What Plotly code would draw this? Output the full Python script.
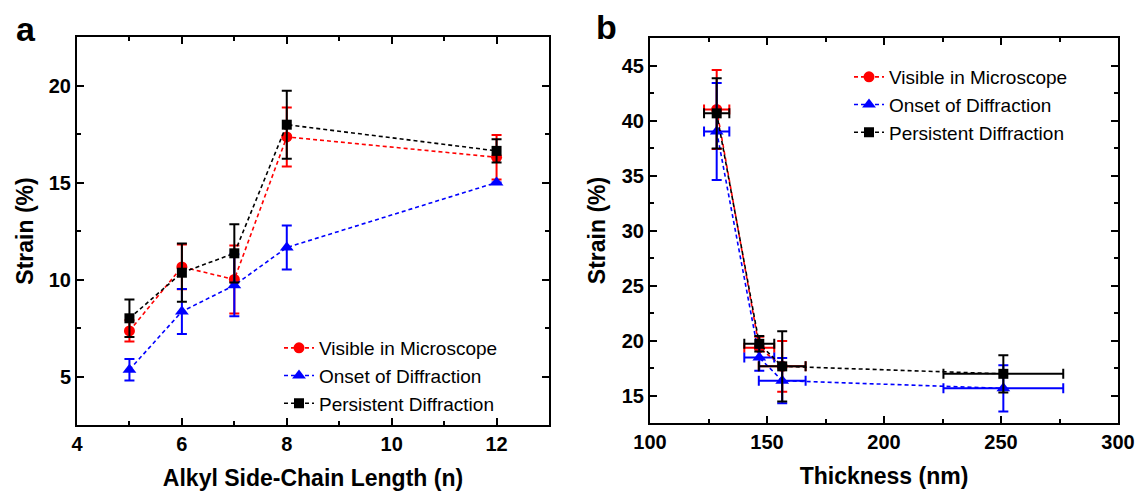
import plotly.graph_objects as go

# ---------- Panel a data ----------
chain_len = [5, 6, 7, 8, 12]
vis_a = [7.35, 10.65, 10.0, 17.35, 16.3]
vis_a_err = [0.55, 1.15, 1.75, 1.52, 1.15]
onset_a = [5.35, 8.35, 9.7, 11.65, 15.0]
onset_a_err = [0.55, 1.16, 1.6, 1.13, 0.0]
pers_a = [8.0, 10.35, 11.35, 17.98, 16.63]
pers_a_err = [0.97, 1.5, 1.5, 1.75, 0.6]

# ---------- Panel b data ----------
thick_vis = [128.5, 146.7, 156.5]
thick_vis_err = [5.4, 6.4, 10.0]
vis_b = [41.0, 19.35, 17.65]
vis_b_err = [3.6, 1.0, 2.3]

thick_onset = [128.5, 146.7, 156.5, 251.0]
thick_onset_err = [5.4, 6.4, 10.0, 25.6]
onset_b = [39.0, 18.45, 16.35, 15.65]
onset_b_err = [4.4, 1.2, 2.05, 2.1]

thick_pers = [128.5, 146.7, 156.5, 251.0]
thick_pers_err = [5.4, 6.4, 10.0, 25.6]
pers_b = [40.65, 19.7, 17.65, 16.97]
pers_b_err = [3.2, 0.7, 3.2, 1.7]

names = ["Visible in Microscope", "Onset of Diffraction", "Persistent Diffraction"]
colors = ["#ff0000", "#0000ff", "#000000"]
symbols = ["circle", "triangle-up", "square"]
msizes = [11, 12, 10]

W, H = 1138, 493
fig = go.Figure()

series_a = [(vis_a, vis_a_err), (onset_a, onset_a_err), (pers_a, pers_a_err)]
for i, (yv, ye) in enumerate(series_a):
    fig.add_trace(go.Scatter(
        x=chain_len, y=yv, name=names[i], mode="lines+markers",
        line=dict(color=colors[i], width=1.6, dash="4px,3px"),
        marker=dict(color=colors[i], symbol=symbols[i], size=msizes[i]),
        error_y=dict(type="data", array=ye, color=colors[i], thickness=2, width=5),
        xaxis="x", yaxis="y", legend="legend",
    ))

series_b = [(thick_vis, thick_vis_err, vis_b, vis_b_err),
            (thick_onset, thick_onset_err, onset_b, onset_b_err),
            (thick_pers, thick_pers_err, pers_b, pers_b_err)]
for i, (xv, xe, yv, ye) in enumerate(series_b):
    fig.add_trace(go.Scatter(
        x=xv, y=yv, name=names[i], mode="lines+markers",
        line=dict(color=colors[i], width=1.6, dash="4px,3px"),
        marker=dict(color=colors[i], symbol=symbols[i], size=msizes[i]),
        error_y=dict(type="data", array=ye, color=colors[i], thickness=2, width=5),
        error_x=dict(type="data", array=xe, color=colors[i], thickness=2, width=5),
        xaxis="x2", yaxis="y2", legend="legend2",
    ))

FAM = "Liberation Sans, Arial, sans-serif"
tickfont = dict(family=FAM, size=20, color="black", weight="bold")
titlefont = dict(family=FAM, size=23, color="black", weight="bold")

def axis_common(rng, dtick, minor_dtick, domain, anchor, title, standoff):
    return dict(
        range=rng, dtick=dtick, domain=domain, anchor=anchor, automargin=False,
        showgrid=False, zeroline=False, showline=True, linecolor="black", linewidth=2,
        mirror="allticks", ticks="inside", ticklen=7, tickwidth=1.5, tickcolor="black",
        minor=dict(dtick=minor_dtick, ticks="inside", ticklen=4, tickwidth=1.5, tickcolor="black", showgrid=False),
        tickfont=tickfont, title=dict(text=title, font=titlefont, standoff=standoff),
    )

ydom_a = [1 - 425 / H, 1 - 37 / H]
ydom_b = [1 - 423 / H, 1 - 38 / H]
xdom_a = [77 / W, 549 / W]
xdom_b = [650 / W, 1118 / W]

legfont = dict(family=FAM, size=19, color="black")

fig.update_layout(
    width=W, height=H, margin=dict(l=0, r=0, t=0, b=0),
    paper_bgcolor="white", plot_bgcolor="white",
    xaxis=axis_common([4, 13], 2, 1, xdom_a, "y", "Alkyl Side-Chain Length (n)", 16),
    yaxis=axis_common([2.5, 22.5], 5, 2.5, ydom_a, "x", "Strain (%)", 9),
    xaxis2=axis_common([100, 300], 50, 25, xdom_b, "y2", "Thickness (nm)", 16),
    yaxis2=axis_common([12.5, 47.5], 5, 2.5, ydom_b, "x2", "Strain (%)", 10),
    legend=dict(x=279 / W, y=1 - 329 / H, xanchor="left", yanchor="top",
                bgcolor="rgba(0,0,0,0)", font=legfont, traceorder="normal", itemwidth=30),
    legend2=dict(x=849 / W, y=1 - 58 / H, xanchor="left", yanchor="top",
                 bgcolor="rgba(0,0,0,0)", font=legfont, traceorder="normal", itemwidth=30),
    showlegend=True,
    annotations=[
        dict(text="a", x=26 / W, y=1 - 29 / H, xref="paper", yref="paper", showarrow=False,
             xanchor="center", yanchor="middle",
             font=dict(family=FAM, size=34, color="black", weight="bold")),
        dict(text="b", x=606 / W, y=1 - 27 / H, xref="paper", yref="paper", showarrow=False,
             xanchor="center", yanchor="middle",
             font=dict(family=FAM, size=34, color="black", weight="bold")),
    ],
)

fig.write_html("out.html")
